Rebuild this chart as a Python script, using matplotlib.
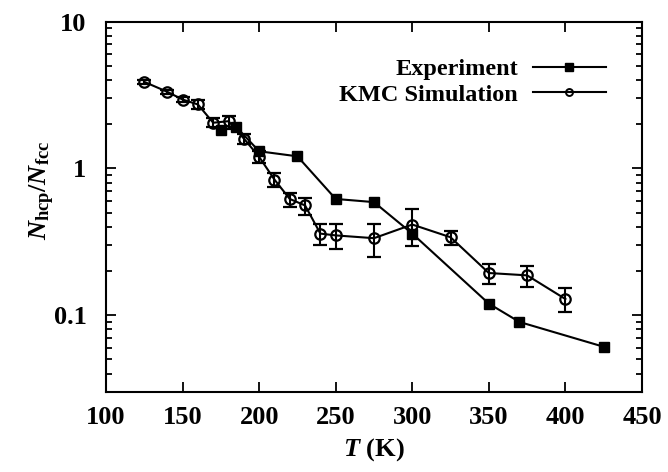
import matplotlib
matplotlib.use("Agg")
import matplotlib.pyplot as plt
from matplotlib.lines import Line2D
from matplotlib.ticker import LogLocator, NullFormatter, FixedLocator
import numpy as np

plt.rcParams["font.family"] = ["Liberation Serif", "DejaVu Serif"]
plt.rcParams["font.weight"] = "bold"
plt.rcParams["axes.labelweight"] = "bold"
plt.rcParams["mathtext.fontset"] = "custom"
plt.rcParams["mathtext.rm"] = "Liberation Serif:bold"
plt.rcParams["mathtext.it"] = "Liberation Serif:bold:italic"
plt.rcParams["mathtext.bf"] = "Liberation Serif:bold"

# experiment (filled squares)
exp_T = [175, 185, 200, 225, 250, 275, 300, 350, 370, 425]
exp_ratio = [1.82, 1.92, 1.31, 1.21, 0.62, 0.59, 0.36, 0.12, 0.090, 0.061]

# KMC simulation (open circles with error bars)
sim_T = [125, 140, 150, 160, 170, 180, 190, 200, 210, 220, 230,
         240, 250, 275, 300, 325, 350, 375, 400]
sim_ratio = [3.89, 3.33, 2.95, 2.73, 2.05, 2.10, 1.60, 1.20, 0.84, 0.62, 0.56,
             0.36, 0.35, 0.335, 0.415, 0.34, 0.194, 0.187, 0.129]
sim_lo = [3.75, 3.22, 2.85, 2.55, 1.92, 1.87, 1.46, 1.09, 0.75, 0.547, 0.48,
          0.30, 0.283, 0.25, 0.295, 0.30, 0.164, 0.156, 0.105]
sim_hi = [4.02, 3.45, 3.05, 2.92, 2.20, 2.27, 1.73, 1.32, 0.925, 0.68, 0.625,
          0.417, 0.417, 0.417, 0.53, 0.373, 0.225, 0.218, 0.154]

fig = plt.figure(figsize=(6.68, 4.72), dpi=100)
ax = fig.add_axes([0.1587, 0.1695, 0.8023, 0.7845])

sim = np.array(sim_ratio)
yerr = [sim - np.array(sim_lo), np.array(sim_hi) - sim]

ax.plot(exp_T, exp_ratio, color="black", lw=1.5, marker="s", ms=7,
        mfc="black", mec="black")
ax.errorbar(sim_T, sim_ratio, yerr=yerr, color="black", lw=1.5, marker="o",
            ms=7.5, mfc="none", mec="black", mew=1.6, capsize=5, capthick=1.5,
            elinewidth=1.5)

ax.set_yscale("log")
ax.set_xlim(100, 450)
ax.set_ylim(0.03, 10)
ax.xaxis.set_major_locator(FixedLocator(np.arange(100, 451, 50)))
ax.yaxis.set_minor_locator(LogLocator(base=10, subs=np.arange(2, 10)))
ax.yaxis.set_minor_formatter(NullFormatter())
ax.set_yticks([0.1, 1, 10])
ax.set_yticklabels(["0.1", "1", "10"])

ax.tick_params(which="both", direction="in", top=True, right=True,
               labelsize=19, width=1.3)
ax.tick_params(axis="y", pad=14)
ax.tick_params(axis="x", pad=10)
ax.tick_params(which="major", length=7)
ax.tick_params(which="minor", length=4)
ax.tick_params(axis="x", which="minor", top=False, bottom=False)
for s in ax.spines.values():
    s.set_linewidth(1.5)

ax.set_xlabel(r"$T$ (K)", fontsize=19, labelpad=5)
ax.set_ylabel(r"$N_{\mathrm{hcp}}/N_{\mathrm{fcc}}$", fontsize=19)
ax.yaxis.set_label_coords(-0.092, 0.545)

handles = [
    Line2D([], [], color="black", lw=1.5, marker="s", ms=6, mfc="black"),
    Line2D([], [], color="black", lw=1.5, marker="o", ms=5, mfc="none", mew=1.4),
]
ax.legend(handles, ["Experiment", "KMC Simulation"], loc="upper right",
          bbox_to_anchor=(0.955, 0.934), markerfirst=False, frameon=False,
          fontsize=17.5, handlelength=3.0, handletextpad=0.6,
          labelspacing=0.15, borderpad=0)

fig.savefig("out.png", dpi=100)
